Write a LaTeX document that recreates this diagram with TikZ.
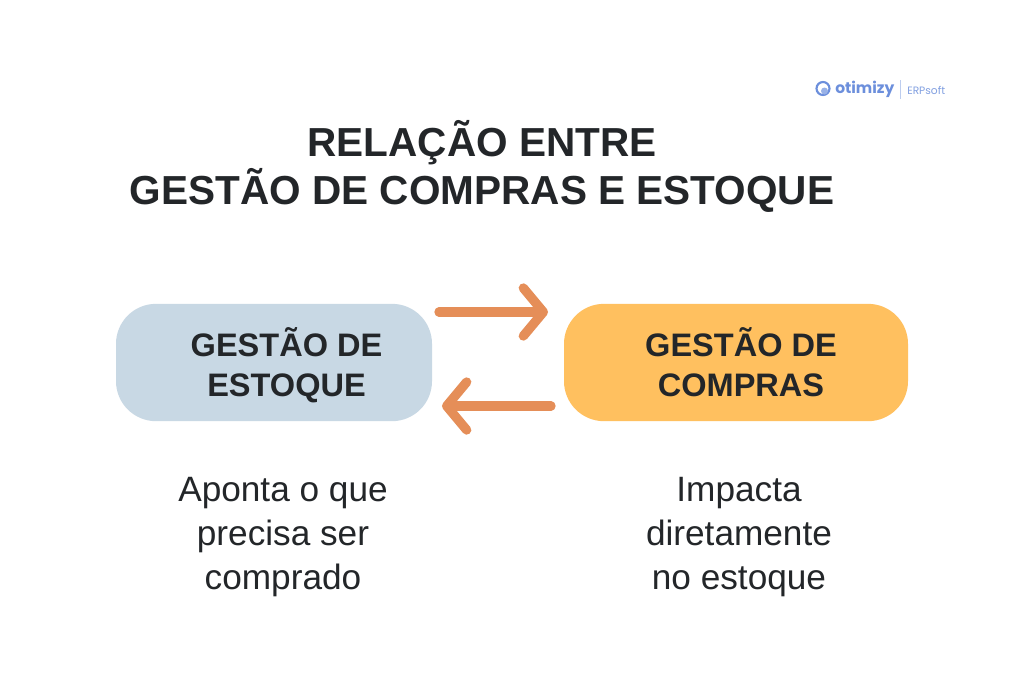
\documentclass[tikz,border=0pt]{standalone}
\usepackage{fontspec}
\setmainfont{Liberation Sans}
\newfontfamily\logofont{Poppins}
\usetikzlibrary{arrows.meta}
\definecolor{boxblue}{HTML}{C8D8E4}
\definecolor{boxorange}{HTML}{FFC05F}
\definecolor{arroworange}{HTML}{E58E58}
\definecolor{inktext}{HTML}{232629}
\definecolor{logoblue}{HTML}{6C8FDC}
\tikzset{
  box/.style={rounded corners=30pt,minimum width=237pt,minimum height=88pt,inner sep=0pt},
  boxtext/.style={text=inktext,font=\fontsize{24.4}{30}\selectfont\bfseries,align=center},
  caption/.style={text=inktext,font=\fontsize{26.4}{33}\selectfont,align=center},
  titletext/.style={text=inktext,font=\fontsize{30.4}{37}\selectfont\bfseries,align=center},
  flow/.style={arroworange,line width=7pt,line cap=round,-{Straight Barb[round,length=15pt,width=36pt,line width=7pt]}}
}
\begin{document}
\begin{tikzpicture}[x=0.75pt,y=-0.75pt]
\useasboundingbox (0,0) rectangle (1024,683);
\fill[white] (0,0) rectangle (1024,683);
% title
\node[titletext] (title1) at (482,143) {RELAÇÃO ENTRE};
\node[titletext] (title2) at (482,190.5) {GESTÃO DE COMPRAS E ESTOQUE};
% boxes
\node[box,fill=boxblue] (estoque) at (274,362.5) {};
\node[box,fill=boxorange,minimum width=258pt] (compras) at (736,362.5) {};
\node[boxtext] (estoquetext) at (286.5,365) {GESTÃO DE\\ESTOQUE};
\node[boxtext] (comprastext) at (741,362) {GESTÃO DE\\COMPRAS};
% arrows
\coordinate (A) at (439,312);
\coordinate (B) at (548,312);
\coordinate (C) at (551,406);
\coordinate (D) at (442,406);
\draw[flow] (A) -- (B);
\draw[flow] (C) -- (D);
% captions
\node[caption] (estoquenote) at (283,537) {Aponta o que\\precisa ser\\comprado};
\node[caption] (comprasnote) at (739,537) {Impacta\\diretamente\\no estoque};
% logo
\coordinate (L) at (823,88.5);
\draw[logoblue,line width=1.6pt] (L) circle (6.5);
\fill[logoblue!70] (824.5,91) circle (3.5);
\node[logoblue,font=\logofont\fontsize{11.6}{14}\selectfont\bfseries,anchor=west,inner sep=0pt] (otimizy) at (835,89) {otimizy};
\draw[logoblue!45,line width=0.6pt] (900.5,80) -- (900.5,99);
\node[logoblue!85,font=\logofont\fontsize{8}{10}\selectfont,anchor=west,inner sep=0pt] (erpsoft) at (907,90) {ERPsoft};
\end{tikzpicture}
\end{document}
